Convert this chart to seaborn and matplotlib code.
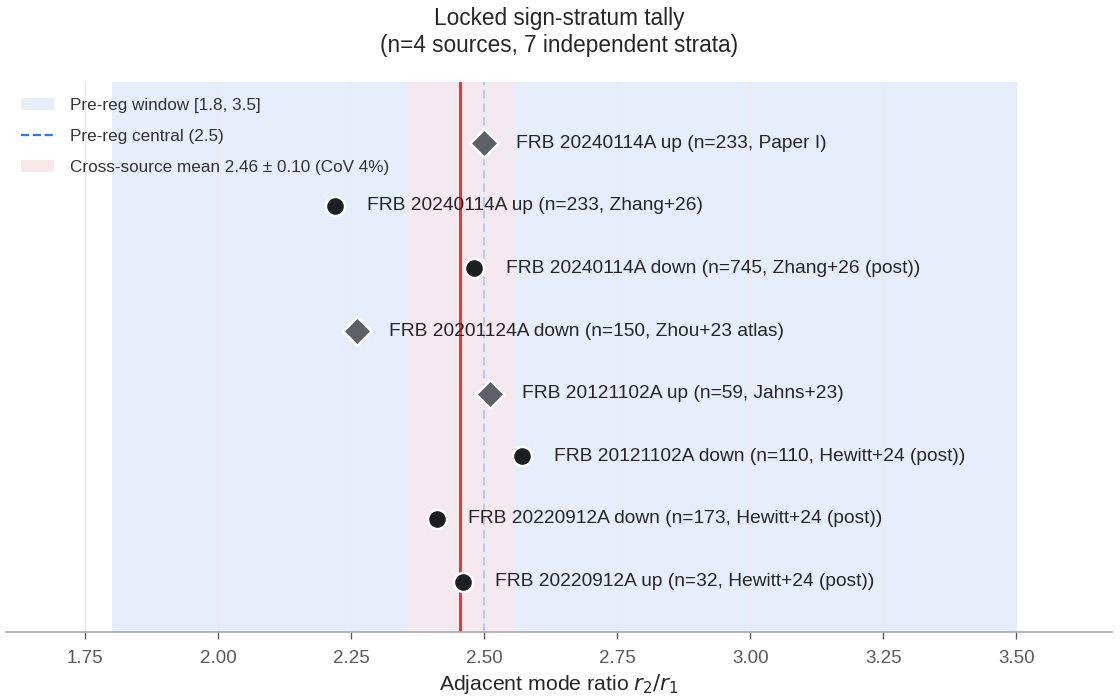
import matplotlib

matplotlib.use("Agg")
import matplotlib.pyplot as plt
import seaborn as sns
from matplotlib.lines import Line2D
from matplotlib.patches import Patch

# Strata, top to bottom
labels = [
    "FRB 20240114A up (n=233, Paper I)",
    "FRB 20240114A up (n=233, Zhang+26)",
    "FRB 20240114A down (n=745, Zhang+26 (post))",
    "FRB 20201124A down (n=150, Zhou+23 atlas)",
    "FRB 20121102A up (n=59, Jahns+23)",
    "FRB 20121102A down (n=110, Hewitt+24 (post))",
    "FRB 20220912A down (n=173, Hewitt+24 (post))",
    "FRB 20220912A up (n=32, Hewitt+24 (post))",
]
ratios = [2.50, 2.22, 2.48, 2.26, 2.51, 2.57, 2.41, 2.46]
kinds = ["locked", "post", "post", "locked", "locked", "post", "post", "post"]

window = (1.8, 3.5)
central = 2.5
mean_r, sd_r = 2.455, 0.098
mean_label = "Cross-source mean 2.46 ± 0.10 (CoV 4%)"
ticks = [1.75, 2.00, 2.25, 2.50, 2.75, 3.00, 3.25, 3.50]

sns.set_theme(style="whitegrid")
plt.rcParams["font.family"] = ["Liberation Sans", "DejaVu Sans"]

fig, ax = plt.subplots(figsize=(11.2, 6.98), dpi=100)

ax.axvspan(*window, color="#e6eefb", zorder=0, lw=0)
ax.axvspan(mean_r - sd_r, mean_r + sd_r, color="#f3e9ee", zorder=0.5, lw=0)
ax.axvline(central, color="#a6c8f2", ls=(0, (5, 3)), lw=1.2, zorder=1)
ax.axvline(mean_r, color="#ea3b2b", lw=2.2, zorder=1.5)

ypos = list(range(len(labels)))
styles = {"locked": ("D", "#5d6066", 210), "post": ("o", "#1d1e21", 190)}
for kind, (mk, col, size) in styles.items():
    xs = [r for r, k in zip(ratios, kinds) if k == kind]
    ys = [y for y, k in zip(ypos, kinds) if k == kind]
    sns.scatterplot(x=xs, y=ys, marker=mk, color=col, s=size,
                    edgecolor="white", linewidth=1.8, zorder=3, ax=ax)

for r, y, lab in zip(ratios, ypos, labels):
    ax.annotate(lab, (r, y), xytext=(23, 0), textcoords="offset points",
                va="center", ha="left", fontsize=13.8, color="#262626")

ax.set_xlim(1.6, 3.68)
ax.set_ylim(7.8, -0.97)
ax.set_yticks([])
ax.set_xticks(ticks)
ax.set_xticklabels([f"{t:.2f}" for t in ticks])
ax.tick_params(axis="x", colors="#5a5a5a", labelsize=13.5, length=5,
               width=1, bottom=True, pad=8)
ax.grid(axis="y", visible=False)
ax.grid(axis="x", color="#ebebeb", lw=1)
for side in ["top", "left", "right"]:
    ax.spines[side].set_visible(False)
ax.spines["bottom"].set_color("#aaaaaa")
ax.spines["bottom"].set_linewidth(1.2)

ax.set_xlabel("Adjacent mode ratio $r_2/r_1$", fontsize=15.3, color="#262626",
              labelpad=4)
ax.set_title("Locked sign-stratum tally\n(n=4 sources, 7 independent strata)",
             fontsize=16.3, color="#262626", pad=22, linespacing=1.2)

handles = [
    Patch(facecolor="#e6eefb", edgecolor="none", label="Pre-reg window [1.8, 3.5]"),
    Line2D([0], [0], color="#2a7be4", ls="--", lw=1.6, label="Pre-reg central (2.5)"),
    Patch(facecolor="#f7e8ea", edgecolor="none", label=mean_label),
]
ax.legend(handles=handles, loc="upper left", frameon=False, fontsize=12.3,
          bbox_to_anchor=(0.0, 1.0), labelspacing=0.95, handlelength=1.95,
          handletextpad=0.9, labelcolor="#333333")

fig.subplots_adjust(left=0.005, right=0.993, top=0.882, bottom=0.095)
fig.savefig("out.png", dpi=100)
plt.close(fig)
